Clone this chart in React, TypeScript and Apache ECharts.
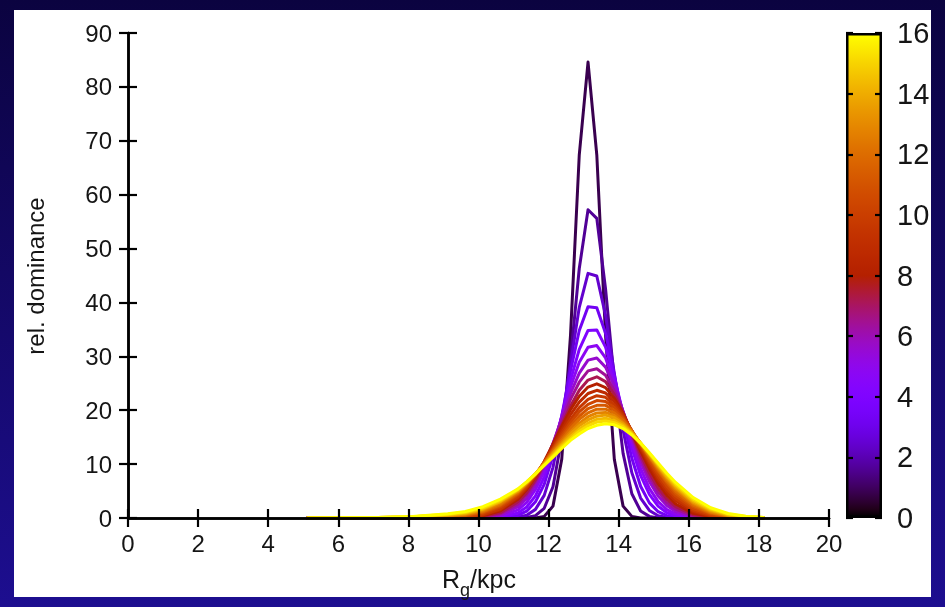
import React, { useEffect, useRef } from 'react';
import * as echarts from 'echarts';

// Galactocentric guiding radius sampling points (kpc, bin centres)
const R_GRID = [5.125, 6.125, 7.125, 8.125, 9.125, 9.625, 10.125, 10.625, 11.125, 11.375, 11.625, 11.875, 12.125, 12.375, 12.625, 12.875, 13.125, 13.375, 13.625, 13.875, 14.125, 14.375, 14.625, 14.875, 15.125, 15.375, 15.625, 16.125, 16.625, 17.125, 17.625, 18.125];

// colour-bar value (age) of each curve
const AGES = [0.8, 1.6, 2.4, 3.2, 4.0, 4.8, 5.6, 6.4, 7.2, 8.0, 8.8, 9.6, 10.4, 11.2, 12.0, 12.8, 13.6, 14.4, 15.2, 16.0];

const C00 = [0, 0, 0, 0, 0, 0, 0, 0, 0, 0, 0, 0.3, 2.2, 10.9, 33.9, 67.4, 84.6, 67.4, 33.9, 10.9, 2.2, 0.3, 0, 0, 0, 0, 0, 0, 0, 0, 0, 0];
const C01 = [0, 0, 0, 0, 0, 0, 0, 0, 0, 0.08, 0.44, 1.8, 5.8, 14.7, 29.5, 46.3, 57.2, 55.6, 42.5, 25.5, 12.0, 4.5, 1.3, 0.3, 0, 0, 0, 0, 0, 0, 0, 0];
const C02 = [0, 0, 0, 0, 0, 0, 0, 0, 0.15, 0.53, 1.6, 4.2, 9.4, 17.8, 28.6, 39.1, 45.4, 44.9, 37.6, 26.8, 16.3, 8.4, 3.7, 1.4, 0.43, 0.12, 0, 0, 0, 0, 0, 0];
const C03 = [0, 0, 0, 0, 0, 0, 0, 0.05, 0.47, 1.26, 3.0, 6.25, 11.6, 18.9, 27.3, 34.8, 39.2, 39.0, 34.3, 26.6, 18.3, 11.1, 5.9, 2.8, 1.17, 0.43, 0.14, 0, 0, 0, 0, 0];
const C04 = [0, 0, 0, 0, 0, 0, 0, 0.14, 0.92, 2.05, 4.1, 7.6, 12.6, 18.9, 25.6, 31.3, 34.8, 34.9, 31.7, 26.1, 19.4, 13.0, 7.9, 4.4, 2.2, 0.98, 0.4, 0.05, 0, 0, 0, 0];
const C05 = [0, 0, 0, 0, 0, 0, 0.05, 0.31, 1.5, 2.9, 5.3, 8.7, 13.3, 18.7, 24.3, 28.9, 31.7, 32.0, 29.7, 25.2, 19.6, 14.0, 9.2, 5.5, 3.05, 1.55, 0.72, 0.12, 0, 0, 0, 0];
const C06 = [0, 0, 0, 0, 0, 0.02, 0.1, 0.54, 2.1, 3.7, 6.2, 9.6, 13.8, 18.5, 23.1, 26.9, 29.3, 29.7, 28.0, 24.5, 19.8, 14.9, 10.4, 6.8, 4.1, 2.3, 1.2, 0.25, 0.04, 0, 0, 0];
const C07 = [0, 0, 0, 0, 0, 0.03, 0.19, 0.8, 2.6, 4.4, 6.8, 10.0, 13.8, 18.0, 22.0, 25.2, 27.3, 27.7, 26.5, 23.6, 19.7, 15.4, 11.2, 7.7, 4.9, 2.9, 1.64, 0.42, 0.08, 0, 0, 0];
const C08 = [0, 0, 0, 0, 0.01, 0.06, 0.27, 1.0, 3.0, 4.7, 7.1, 10.1, 13.6, 17.3, 20.8, 23.7, 25.6, 26.2, 25.3, 22.9, 19.5, 15.7, 11.8, 8.4, 5.6, 3.5, 2.1, 0.61, 0.14, 0.03, 0, 0];
const C09 = [0, 0, 0, 0, 0.02, 0.11, 0.42, 1.35, 3.5, 5.3, 7.7, 10.5, 13.7, 17.0, 20.1, 22.6, 24.3, 24.9, 24.2, 22.2, 19.4, 15.9, 12.4, 9.2, 6.4, 4.2, 2.6, 0.87, 0.23, 0.05, 0, 0];
const C10 = [0, 0, 0, 0, 0.04, 0.15, 0.53, 1.54, 3.8, 5.5, 7.7, 10.4, 13.3, 16.3, 19.2, 21.5, 23.1, 23.7, 23.2, 21.6, 19.2, 16.1, 12.9, 9.9, 7.1, 4.9, 3.2, 1.19, 0.36, 0.09, 0.02, 0];
const C11 = [0, 0, 0, 0.01, 0.06, 0.2, 0.65, 1.7, 4.0, 5.7, 7.8, 10.3, 13.0, 15.8, 18.3, 20.5, 22.0, 22.7, 22.4, 21.0, 18.9, 16.2, 13.2, 10.3, 7.6, 5.4, 3.6, 1.43, 0.47, 0.13, 0.03, 0];
const C12 = [0, 0, 0.02, 0.05, 0.17, 0.3, 0.85, 2.05, 4.3, 5.9, 8.0, 10.3, 12.8, 15.3, 17.7, 19.7, 21.1, 21.8, 21.6, 20.5, 18.6, 16.2, 13.5, 10.7, 8.2, 5.9, 4.1, 1.75, 0.62, 0.19, 0.05, 0.01];
const C13 = [0, 0.01, 0.03, 0.09, 0.25, 0.45, 1.05, 2.3, 4.5, 6.2, 8.1, 10.3, 12.6, 14.9, 17.1, 18.9, 20.3, 20.9, 20.9, 20.0, 18.4, 16.2, 13.7, 11.1, 8.7, 6.5, 4.6, 2.1, 0.81, 0.26, 0.07, 0.02];
const C14 = [0, 0.01, 0.04, 0.11, 0.33, 0.56, 1.2, 2.5, 4.7, 6.3, 8.1, 10.2, 12.4, 14.5, 16.6, 18.3, 19.5, 20.2, 20.2, 19.5, 18.1, 16.1, 13.8, 11.4, 9.0, 6.8, 5.0, 2.4, 0.96, 0.33, 0.1, 0.03];
const C15 = [0, 0.02, 0.06, 0.15, 0.41, 0.68, 1.38, 2.75, 4.9, 6.4, 8.1, 10.1, 12.1, 14.1, 16.0, 17.6, 18.8, 19.5, 19.6, 19.0, 17.7, 16.0, 13.8, 11.5, 9.3, 7.2, 5.4, 2.7, 1.13, 0.42, 0.13, 0.04];
const C16 = [0, 0.02, 0.07, 0.18, 0.51, 0.8, 1.56, 3.0, 5.0, 6.5, 8.2, 10.0, 12.0, 13.8, 15.6, 17.1, 18.2, 18.9, 19.1, 18.6, 17.5, 15.9, 13.9, 11.8, 9.6, 7.5, 5.7, 2.95, 1.32, 0.51, 0.17, 0.05];
const C17 = [0, 0.02, 0.08, 0.22, 0.6, 0.92, 1.73, 3.1, 5.2, 6.6, 8.2, 9.9, 11.7, 13.5, 15.1, 16.5, 17.6, 18.3, 18.5, 18.1, 17.2, 15.7, 13.9, 11.9, 9.8, 7.8, 6.0, 3.2, 1.5, 0.61, 0.22, 0.07];
const C18 = [0, 0.03, 0.09, 0.25, 0.71, 1.05, 1.9, 3.3, 5.3, 6.7, 8.2, 9.8, 11.5, 13.2, 14.7, 16.1, 17.1, 17.8, 18.0, 17.7, 16.9, 15.6, 13.9, 12.0, 10.0, 8.1, 6.3, 3.5, 1.7, 0.72, 0.27, 0.09];
const C19 = [0, 0.03, 0.1, 0.3, 0.8, 1.2, 2.1, 3.5, 5.4, 6.7, 8.2, 9.75, 11.3, 12.9, 14.4, 15.6, 16.6, 17.2, 17.5, 17.3, 16.6, 15.4, 13.9, 12.1, 10.2, 8.3, 6.6, 3.8, 1.9, 0.83, 0.32, 0.11];

const CURVES = [C00, C01, C02, C03, C04, C05, C06, C07, C08, C09, C10, C11, C12, C13, C14, C15, C16, C17, C18, C19];

const X_MIN = 0, X_MAX = 20, X_STEP = 2;
const Y_MIN = 0, Y_MAX = 90, Y_STEP = 10;
const CB_MIN = 0, CB_MAX = 16, CB_STEP = 2;

const FONT = '"Liberation Sans", Arial, Helvetica, sans-serif';

// gnuplot default pm3d palette (rgbformulae 7,5,15)
function palette(v: number): string {
  const x = Math.min(1, Math.max(0, (v - CB_MIN) / (CB_MAX - CB_MIN)));
  const r = Math.sqrt(x);
  const g = x * x * x;
  const b = Math.max(0, Math.sin(2 * Math.PI * x));
  return `rgb(${Math.round(r * 255)},${Math.round(g * 255)},${Math.round(b * 255)})`;
}

export default function App() {
  const ref = useRef<HTMLDivElement>(null);

  useEffect(() => {
    if (!ref.current) return;
    const chart = echarts.init(ref.current, undefined, { renderer: 'svg' });

    const bgGrad = () =>
      new echarts.graphic.LinearGradient(0, 0, 0, 607, [
        { offset: 0, color: '#0b0340' },
        { offset: 1, color: '#1d0e90' },
      ], true);

    const cbStops: { offset: number; color: string }[] = [];
    for (let i = 0; i <= 64; i++) {
      cbStops.push({ offset: i / 64, color: palette(CB_MIN + (i / 64) * (CB_MAX - CB_MIN)) });
    }

    const axisLine = { show: true, lineStyle: { color: '#000', width: 2.5 } };
    const tick = (len: number) => ({ show: true, inside: true, length: len, lineStyle: { color: '#000', width: 2.2 } });
    const lbl = { fontSize: 24, color: '#151515', fontFamily: FONT };

    const lineSeries = CURVES.map((c, k) => ({
      type: 'line',
      xAxisIndex: 0,
      yAxisIndex: 0,
      data: R_GRID.map((x, i) => [x, c[i]]),
      showSymbol: false,
      symbol: 'none',
      smooth: false,
      silent: true,
      z: 2,
      lineStyle: { color: palette(AGES[k]), width: 3, cap: 'round', join: 'round' },
      emphasis: { disabled: true },
    }));

    chart.setOption({
      animation: false,
      grid: [
        { left: 128, top: 33, width: 701, height: 485, containLabel: false },
        { left: 846, top: 33, width: 36, height: 485, containLabel: false },
      ],
      xAxis: [
        {
          gridIndex: 0, type: 'value', min: X_MIN, max: X_MAX, interval: X_STEP, position: 'bottom', z: 5,
          axisLine, axisTick: tick(9), splitLine: { show: false },
          axisLabel: { ...lbl, margin: 13 },
        },
        {
          gridIndex: 0, type: 'value', min: X_MIN, max: X_MAX, interval: X_STEP, position: 'top', z: 5,
          axisLine, axisTick: tick(9), splitLine: { show: false }, axisLabel: { show: false },
        },
        {
          gridIndex: 1, type: 'category', data: ['cb'], show: false,
        },
      ],
      yAxis: [
        {
          gridIndex: 0, type: 'value', min: Y_MIN, max: Y_MAX, interval: Y_STEP, position: 'left', z: 5,
          axisLine, axisTick: tick(9), splitLine: { show: false },
          axisLabel: { ...lbl, margin: 16 },
        },
        {
          gridIndex: 0, type: 'value', min: Y_MIN, max: Y_MAX, interval: Y_STEP, position: 'right', z: 5,
          axisLine, axisTick: tick(9), splitLine: { show: false }, axisLabel: { show: false },
        },
        {
          gridIndex: 1, type: 'value', min: CB_MIN, max: CB_MAX, interval: CB_STEP, position: 'right', z: 5,
          axisLine: { show: false }, axisTick: tick(7), splitLine: { show: false },
          axisLabel: { ...lbl, fontSize: 29, margin: 15 },
        },
        {
          gridIndex: 1, type: 'value', min: CB_MIN, max: CB_MAX, interval: CB_STEP, position: 'left', z: 5,
          axisLine: { show: false }, axisTick: tick(7), splitLine: { show: false }, axisLabel: { show: false },
        },
      ],
      series: [
        ...lineSeries,
        {
          type: 'bar',
          xAxisIndex: 2,
          yAxisIndex: 2,
          data: [CB_MAX],
          barWidth: '100%',
          silent: true,
          z: 1,
          itemStyle: {
            color: new echarts.graphic.LinearGradient(0, 1, 0, 0, cbStops),
            borderColor: '#000',
            borderWidth: 2.5,
          },
          emphasis: { disabled: true },
        },
      ],
      graphic: [
        { type: 'rect', silent: true, z: -100, shape: { x: 0, y: 0, width: 945, height: 607 }, style: { fill: bgGrad() } },
        { type: 'rect', silent: true, z: -90, shape: { x: 14, y: 10, width: 917, height: 587 }, style: { fill: '#ffffff' } },
        { type: 'rect', silent: true, z: 100, shape: { x: 931, y: 0, width: 14, height: 607 }, style: { fill: bgGrad() } },
        {
          type: 'text', silent: true, z: 10, x: 479, y: 579,
          style: {
            text: '{a|R}{b|g}{a|/kpc}',
            align: 'center',
            verticalAlign: 'middle',
            rich: {
              a: { fontSize: 25, fontFamily: FONT, fill: '#151515', lineHeight: 40, verticalAlign: 'middle' },
              b: { fontSize: 18, fontFamily: FONT, fill: '#151515', lineHeight: 18, verticalAlign: 'bottom' },
            },
          },
        },
        {
          type: 'text', silent: true, z: 10, x: 35, y: 276, rotation: Math.PI / 2,
          style: { text: 'rel. dominance', fontSize: 24, fontFamily: FONT, fill: '#151515', align: 'center', verticalAlign: 'middle' },
        },
      ],
    });

    return () => chart.dispose();
  }, []);

  return <div ref={ref} style={{ position: 'fixed', left: 0, top: 0, width: 945, height: 607 }} />;
}
